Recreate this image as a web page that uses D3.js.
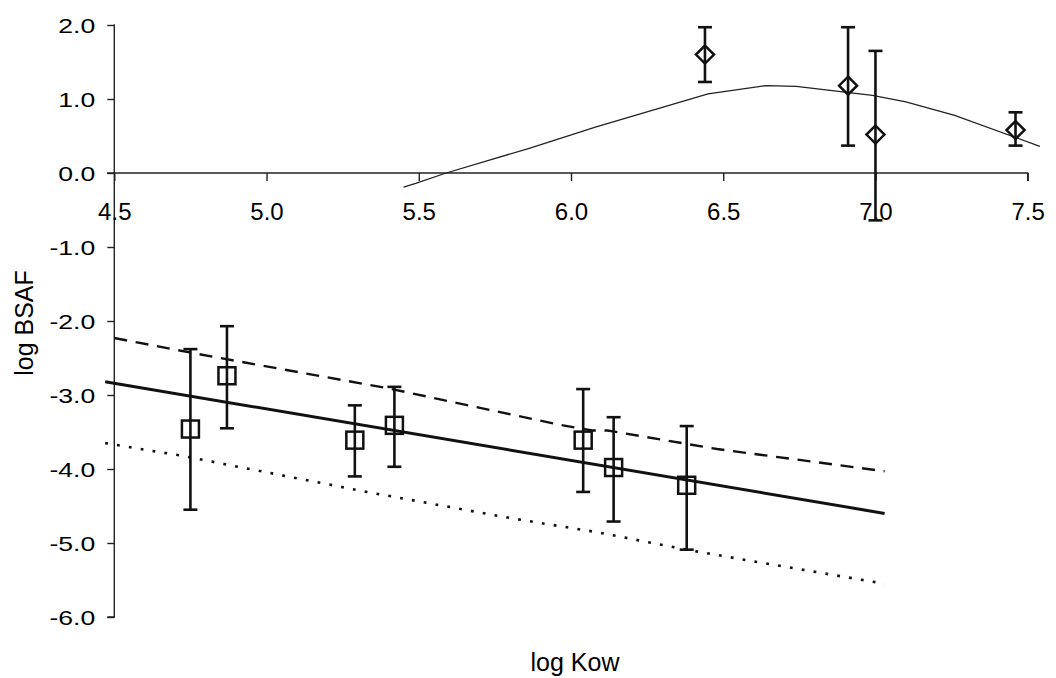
<!DOCTYPE html>
<html>
<head>
<meta charset="utf-8">
<script src="https://cdn.jsdelivr.net/npm/d3@7"></script>
<style>
  html, body { margin: 0; padding: 0; background: #fff; }
  svg { display: block; }
  text { font-family: "Liberation Sans", Arial, Helvetica, sans-serif; fill: #000; }
</style>
</head>
<body>
<svg id="chart" width="1056" height="678"></svg>
<script>
// ---- data ----
const xTicks = [4.5, 5.0, 5.5, 6.0, 6.5, 7.0, 7.5];
const yTicks = [2, 1, 0, -1, -2, -3, -4, -5, -6];

// upper series (diamonds) with error bars
const topX  = [6.44, 6.91, 7.00, 7.46];
const topY  = [1.60, 1.18, 0.52, 0.58];
const topHi = [1.97, 1.97, 1.65, 0.82];
const topLo = [1.23, 0.37, -0.64, 0.37];

// upper thin curve
const curveX = [5.45, 5.49, 5.59, 5.86, 6.08, 6.45, 6.64, 6.74, 6.99, 7.10, 7.26, 7.54];
const curveY = [-0.19, -0.14, 0.00, 0.33, 0.62, 1.07, 1.18, 1.17, 1.05, 0.96, 0.78, 0.36];

// lower series (squares) with error bars
const botX  = [4.75, 4.87, 5.29, 5.42, 6.04, 6.14, 6.38];
const botY  = [-3.46, -2.74, -3.61, -3.41, -3.61, -3.98, -4.22];
const botHi = [-2.38, -2.07, -3.14, -2.89, -2.92, -3.30, -3.42];
const botLo = [-4.55, -3.45, -4.10, -3.97, -4.31, -4.71, -5.09];

// regression lines
const solidX = [4.47, 7.03];
const solidY = [-2.82, -4.60];
const dashX  = [4.50, 4.78, 5.40, 5.96, 6.07, 6.12, 6.48, 7.03];
const dashY  = [-2.23, -2.45, -2.91, -3.40, -3.48, -3.48, -3.73, -4.03];
const dotX   = [4.47, 4.72, 5.33, 5.81, 6.08, 6.38, 6.63, 7.03];
const dotY   = [-3.65, -3.82, -4.31, -4.67, -4.85, -5.09, -5.27, -5.55];

// ---- drawing ----
const svg = d3.select("#chart");
const x = d3.scaleLinear().domain([4.5, 7.5]).range([114.3, 1027.7]);
const y = d3.scaleLinear().domain([-6, 2]).range([617, 25]);
const fmt = d => d.toFixed(1);

const zip = (xs, ys) => xs.map((v, i) => [v, ys[i]]);
const line = d3.line().x(d => x(d[0])).y(d => y(d[1]));

// y axis
const yAxis = d3.axisLeft(y).tickValues(yTicks).tickSize(7).tickFormat("");
const gy = svg.append("g").attr("transform", `translate(${x(4.5)},0)`).call(yAxis);
gy.select(".domain").attr("stroke", "#222").attr("stroke-width", 1.4).attr("d", `M-0.5,${y(2)}H0V${y(-6)}H-7`);
gy.selectAll(".tick line").attr("stroke", "#222").attr("stroke-width", 1.4);
gy.selectAll(".tick").append("text")
  .attr("transform", "translate(-19,0) scale(1.33,1)")
  .attr("text-anchor", "end")
  .attr("dy", "0.36em")
  .style("font-size", "20px")
  .text(fmt);

// x axis at y = 0
const xAxis = d3.axisBottom(x).tickValues(xTicks).tickSize(8).tickFormat("");
const gx = svg.append("g").attr("transform", `translate(0,${y(0)})`).call(xAxis);
gx.select(".domain").attr("stroke", "#222").attr("stroke-width", 1.4).attr("d", `M107,0H${x(7.5)}V8`);
gx.selectAll(".tick line").attr("stroke", "#222").attr("stroke-width", 1.4);
gx.selectAll(".tick").append("text")
  .attr("y", 46.5)
  .attr("text-anchor", "middle")
  .style("font-size", "24px")
  .text(fmt);

// axis titles
svg.append("text")
  .attr("transform", "translate(33,323) rotate(-90)")
  .attr("text-anchor", "middle")
  .style("font-size", "25px")
  .text("log BSAF");
svg.append("text")
  .attr("x", 575).attr("y", 671)
  .attr("text-anchor", "middle")
  .style("font-size", "25px")
  .text("log Kow");

// upper curve
svg.append("path").datum(zip(curveX, curveY))
  .attr("d", line).attr("fill", "none").attr("stroke", "#222").attr("stroke-width", 1.3);

// regression lines
svg.append("path").datum(zip(dashX, dashY))
  .attr("d", line).attr("fill", "none").attr("stroke", "#111").attr("stroke-width", 2.4)
  .attr("stroke-dasharray", "13,8.7");
svg.append("path").datum(zip(dotX, dotY))
  .attr("d", line).attr("fill", "none").attr("stroke", "#111").attr("stroke-width", 2.6)
  .attr("stroke-dasharray", "2.8,9.2");
svg.append("path").datum(zip(solidX, solidY))
  .attr("d", line).attr("fill", "none").attr("stroke", "#111").attr("stroke-width", 3);

// error bars
function errorBars(xs, his, los) {
  const g = svg.append("g").attr("stroke", "#111").attr("stroke-width", 2.6).attr("fill", "none");
  xs.forEach((v, i) => {
    const cx = x(v);
    g.append("line").attr("x1", cx).attr("x2", cx).attr("y1", y(his[i])).attr("y2", y(los[i]));
    g.append("line").attr("x1", cx - 7).attr("x2", cx + 7).attr("y1", y(his[i])).attr("y2", y(his[i]));
    g.append("line").attr("x1", cx - 7).attr("x2", cx + 7).attr("y1", y(los[i])).attr("y2", y(los[i]));
  });
}
errorBars(topX, topHi, topLo);
errorBars(botX, botHi, botLo);

// diamonds
svg.append("g").selectAll("path").data(zip(topX, topY)).join("path")
  .attr("d", d => {
    const cx = x(d[0]), cy = y(d[1]), r = 9;
    return `M${cx},${cy - r}L${cx + r},${cy}L${cx},${cy + r}L${cx - r},${cy}Z`;
  })
  .attr("fill", "none").attr("stroke", "#111").attr("stroke-width", 2.5);

// squares
svg.append("g").selectAll("rect").data(zip(botX, botY)).join("rect")
  .attr("x", d => x(d[0]) - 8.5).attr("y", d => y(d[1]) - 8.5)
  .attr("width", 17).attr("height", 17)
  .attr("fill", "none").attr("stroke", "#111").attr("stroke-width", 2.5);
</script>
</body>
</html>
